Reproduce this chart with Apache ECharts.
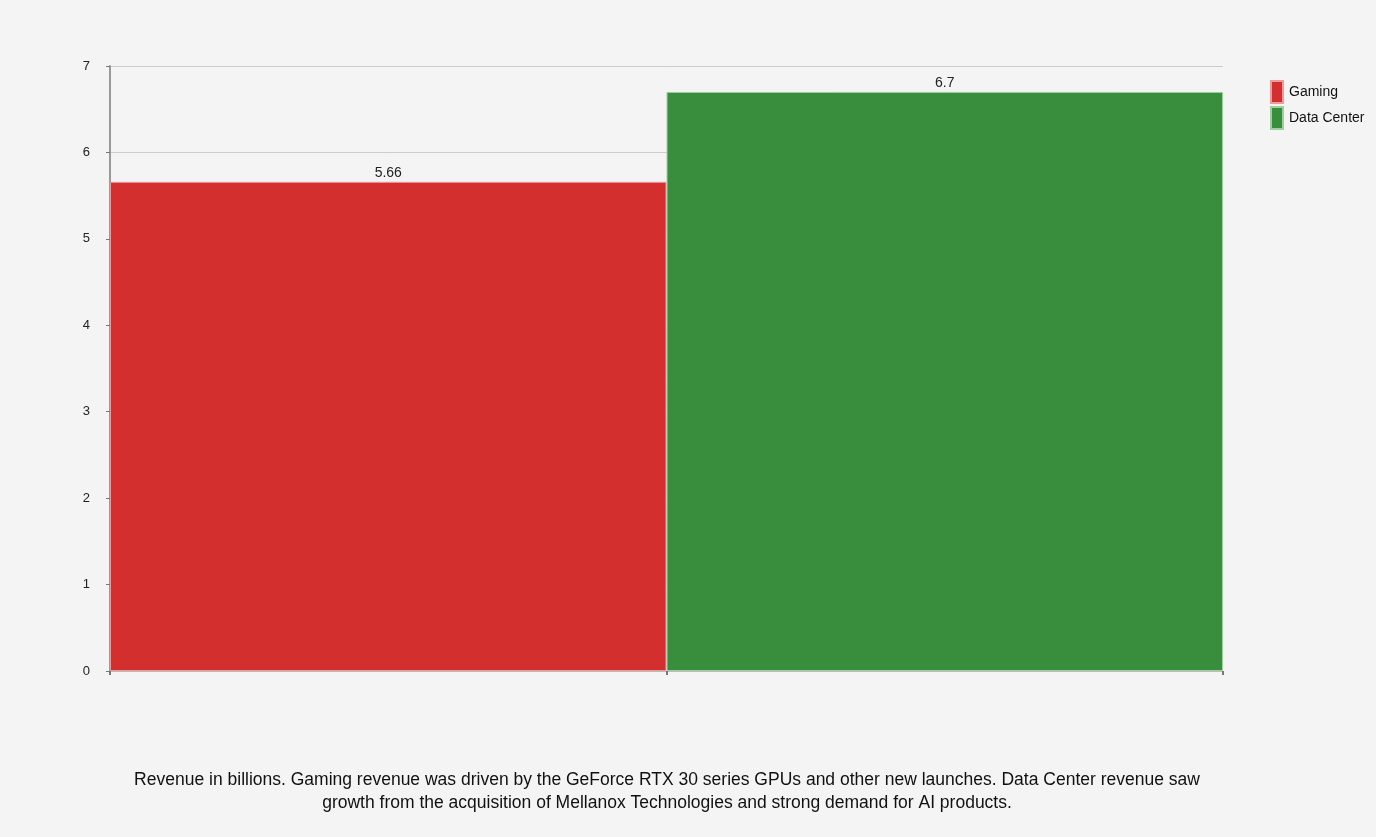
<!DOCTYPE html>
<html><head><meta charset="utf-8">
<script src="https://cdn.jsdelivr.net/npm/echarts@6/dist/echarts.min.js"></script>
<style>html,body{margin:0;padding:0;background:#f4f4f4}#c{width:1376px;height:837px}</style>
</head><body><div id="c"></div>
<script>
var categories = ['Gaming', 'Data Center'];
var gamingValues = [5.66, '-'];
var dataCenterValues = ['-', 6.7];
var yTicks = [0, 1, 2, 3, 4, 5, 6, 7];
var caption = 'Revenue in billions. Gaming revenue was driven by the GeForce RTX 30 series GPUs and other new launches. Data Center revenue saw\ngrowth from the acquisition of Mellanox Technologies and strong demand for AI products.';

var chart = echarts.init(document.getElementById('c'));
var ff = '"Liberation Sans", Arial, sans-serif';
chart.setOption({
  backgroundColor: '#f4f4f4',
  animation: false,
  textStyle: {fontFamily: ff},
  title: {
    text: caption, left: 662, top: 764, textAlign: 'center',
    textStyle: {fontSize: 17.5, fontWeight: 'normal', color: '#111', lineHeight: 23, fontFamily: ff}
  },
  legend: {
    orient: 'vertical', left: 1265, top: 75, itemWidth: 12, itemHeight: 22, itemGap: 2,
    icon: 'rect', textStyle: {fontSize: 14, color: '#111', fontFamily: ff, padding: [0, 0, 0, 1]},
    data: categories
  },
  grid: {left: 110, right: 153, top: 66, bottom: 166, containLabel: false},
  xAxis: {
    type: 'category', data: categories,
    axisLine: {show: true, lineStyle: {color: '#bbb'}},
    axisTick: {show: true, length: 4, lineStyle: {color: '#777', width: 2}},
    axisLabel: {show: false}
  },
  yAxis: {
    type: 'value', min: yTicks[0], max: yTicks[yTicks.length - 1], interval: 1,
    axisLine: {show: true, lineStyle: {color: '#999', width: 2}},
    axisTick: {show: true, length: 4, lineStyle: {color: '#777'}},
    axisLabel: {margin: 20, fontSize: 13, color: '#222', fontFamily: ff},
    splitLine: {show: true, lineStyle: {color: '#ccc'}}
  },
  series: [
    {name: categories[0], type: 'bar', stack: 's', data: gamingValues, barCategoryGap: '0%',
     itemStyle: {color: '#d32f2f', borderColor: '#ec9a9a', borderWidth: 1},
     label: {show: true, position: 'top', distance: 2, fontSize: 14, color: '#222', fontFamily: ff}},
    {name: categories[1], type: 'bar', stack: 's', data: dataCenterValues, barCategoryGap: '0%',
     itemStyle: {color: '#388e3c', borderColor: '#9fcf9f', borderWidth: 1},
     label: {show: true, position: 'top', distance: 2, fontSize: 14, color: '#222', fontFamily: ff}}
  ]
});
</script></body></html>
